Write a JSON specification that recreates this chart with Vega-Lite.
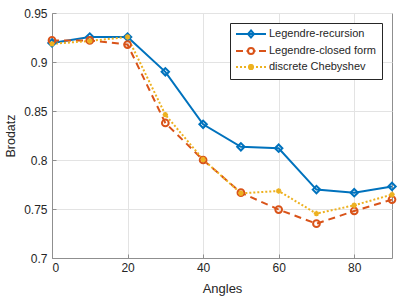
{
  "$schema": "https://vega.github.io/schema/vega-lite/v6.json",
  "width": 340,
  "height": 245,
  "autosize": {"type": "none"},
  "padding": {"left": 52, "top": 13, "right": 7, "bottom": 41},
  "background": "white",
  "config": {
    "font": "Liberation Sans",
    "view": {"stroke": "#8f8f8f", "strokeWidth": 1},
    "axis": {
      "labelFont": "Liberation Sans",
      "labelFontSize": 12,
      "labelColor": "#262626",
      "titleFont": "Liberation Sans",
      "titleFontSize": 13,
      "titleFontWeight": "normal",
      "titleColor": "#262626",
      "domainColor": "#8f8f8f",
      "tickColor": "#8f8f8f",
      "gridColor": "#e3e3e3",
      "gridWidth": 1
    }
  },
  "data": {
    "values": [
      {"a": 0, "v": 0.9195, "s": "Legendre-recursion"},
      {"a": 10, "v": 0.9255, "s": "Legendre-recursion"},
      {"a": 20, "v": 0.9255, "s": "Legendre-recursion"},
      {"a": 30, "v": 0.8900, "s": "Legendre-recursion"},
      {"a": 40, "v": 0.8364, "s": "Legendre-recursion"},
      {"a": 50, "v": 0.8135, "s": "Legendre-recursion"},
      {"a": 60, "v": 0.8120, "s": "Legendre-recursion"},
      {"a": 70, "v": 0.7698, "s": "Legendre-recursion"},
      {"a": 80, "v": 0.7667, "s": "Legendre-recursion"},
      {"a": 90, "v": 0.7730, "s": "Legendre-recursion"},
      {"a": 0, "v": 0.9220, "s": "Legendre-closed form"},
      {"a": 10, "v": 0.9220, "s": "Legendre-closed form"},
      {"a": 20, "v": 0.9178, "s": "Legendre-closed form"},
      {"a": 30, "v": 0.8378, "s": "Legendre-closed form"},
      {"a": 40, "v": 0.8000, "s": "Legendre-closed form"},
      {"a": 50, "v": 0.7667, "s": "Legendre-closed form"},
      {"a": 60, "v": 0.7494, "s": "Legendre-closed form"},
      {"a": 70, "v": 0.7350, "s": "Legendre-closed form"},
      {"a": 80, "v": 0.7480, "s": "Legendre-closed form"},
      {"a": 90, "v": 0.7596, "s": "Legendre-closed form"},
      {"a": 0, "v": 0.9185, "s": "discrete Chebyshev"},
      {"a": 10, "v": 0.9215, "s": "discrete Chebyshev"},
      {"a": 20, "v": 0.9255, "s": "discrete Chebyshev"},
      {"a": 30, "v": 0.8463, "s": "discrete Chebyshev"},
      {"a": 40, "v": 0.8005, "s": "discrete Chebyshev"},
      {"a": 50, "v": 0.7660, "s": "discrete Chebyshev"},
      {"a": 60, "v": 0.7684, "s": "discrete Chebyshev"},
      {"a": 70, "v": 0.7453, "s": "discrete Chebyshev"},
      {"a": 80, "v": 0.7538, "s": "discrete Chebyshev"},
      {"a": 90, "v": 0.7647, "s": "discrete Chebyshev"}
    ]
  },
  "layer": [
    {
      "transform": [{"filter": "datum.s === 'Legendre-recursion'"}],
      "mark": {"type": "line", "strokeWidth": 2},
      "encoding": {
        "x": {
          "field": "a", "type": "quantitative", "title": "Angles",
          "scale": {"domain": [0, 90], "nice": false},
          "axis": {"values": [0, 20, 40, 60, 80], "tickSize": -4, "labelPadding": 8, "titlePadding": 9}
        },
        "y": {
          "field": "v", "type": "quantitative", "title": "Brodatz",
          "scale": {"domain": [0.7, 0.95], "nice": false, "zero": false},
          "axis": {"values": [0.7, 0.75, 0.8, 0.85, 0.9, 0.95], "format": "~g", "tickSize": -4, "labelPadding": 9, "titlePadding": 6, "titleFontSize": 12.5}
        },
        "color": {"value": "#0072BD"}
      }
    },
    {
      "transform": [{"filter": "datum.s === 'Legendre-closed form'"}],
      "mark": {"type": "line", "strokeWidth": 2, "strokeDash": [7, 5]},
      "encoding": {"x": {"field": "a", "type": "quantitative"}, "y": {"field": "v", "type": "quantitative"}, "color": {"value": "#D95319"}}
    },
    {
      "transform": [{"filter": "datum.s === 'discrete Chebyshev'"}],
      "mark": {"type": "line", "strokeWidth": 2, "strokeDash": [2, 2]},
      "encoding": {"x": {"field": "a", "type": "quantitative"}, "y": {"field": "v", "type": "quantitative"}, "color": {"value": "#EDB120"}}
    },
    {
      "transform": [{"filter": "datum.s === 'Legendre-recursion'"}],
      "mark": {"type": "point", "shape": "diamond", "filled": false, "size": 55, "strokeWidth": 2, "opacity": 1},
      "encoding": {"x": {"field": "a", "type": "quantitative"}, "y": {"field": "v", "type": "quantitative"}, "color": {"value": "#0072BD"}}
    },
    {
      "transform": [{"filter": "datum.s === 'Legendre-closed form'"}],
      "mark": {"type": "point", "shape": "circle", "filled": false, "size": 45, "strokeWidth": 2, "opacity": 1},
      "encoding": {"x": {"field": "a", "type": "quantitative"}, "y": {"field": "v", "type": "quantitative"}, "color": {"value": "#D95319"}}
    },
    {
      "transform": [{"filter": "datum.s === 'discrete Chebyshev'"}],
      "mark": {"type": "point", "shape": "M-1,0H1M0,-1V1M-0.7,-0.7L0.7,0.7M-0.7,0.7L0.7,-0.7", "filled": false, "size": 30, "strokeWidth": 1.5, "opacity": 1},
      "encoding": {"x": {"field": "a", "type": "quantitative"}, "y": {"field": "v", "type": "quantitative"}, "color": {"value": "#EDB120"}}
    },
    {
      "mark": {"type": "point", "filled": false, "opacity": 0},
      "encoding": {
        "x": {"field": "a", "type": "quantitative"},
        "y": {"field": "v", "type": "quantitative"},
        "color": {
          "field": "s", "type": "nominal",
          "scale": {
            "domain": ["Legendre-recursion", "Legendre-closed form", "discrete Chebyshev"],
            "range": ["#0072BD", "#D95319", "#EDB120"]
          },
          "legend": {
            "title": null,
            "orient": "top-right",
            "offset": 10,
            "padding": 5,
            "rowPadding": 2,
            "strokeColor": "#262626",
            "fillColor": "white",
            "labelFont": "Liberation Sans",
            "labelFontSize": 11,
            "labelColor": "#262626",
            "symbolSize": 100,
            "symbolStrokeWidth": 2,
            "symbolOpacity": 1,
            "labelOffset": 22
          }
        },
        "shape": {
          "field": "s", "type": "nominal",
          "scale": {
            "domain": ["Legendre-recursion", "Legendre-closed form", "discrete Chebyshev"],
            "range": [
              "M-1,0H5M2,-0.7L2.6,0L2,0.7L1.4,0Z",
              "M-1,0H0.4M1.1,0H1.3M2.6,0A0.6,0.6,0,1,1,1.4,0A0.6,0.6,0,1,1,2.6,0M2.7,0H2.9M3.6,0H5",
              "M-1,0H-0.6M-0.2,0H0.2M0.6,0H1M1.4,0H2.6M2,-0.6V0.6M1.55,-0.45L2.45,0.45M1.55,0.45L2.45,-0.45M3,0H3.4M3.8,0H4.2M4.6,0H5"
            ]
          },
          "legend": {"title": null}
        }
      }
    }
  ]
}
